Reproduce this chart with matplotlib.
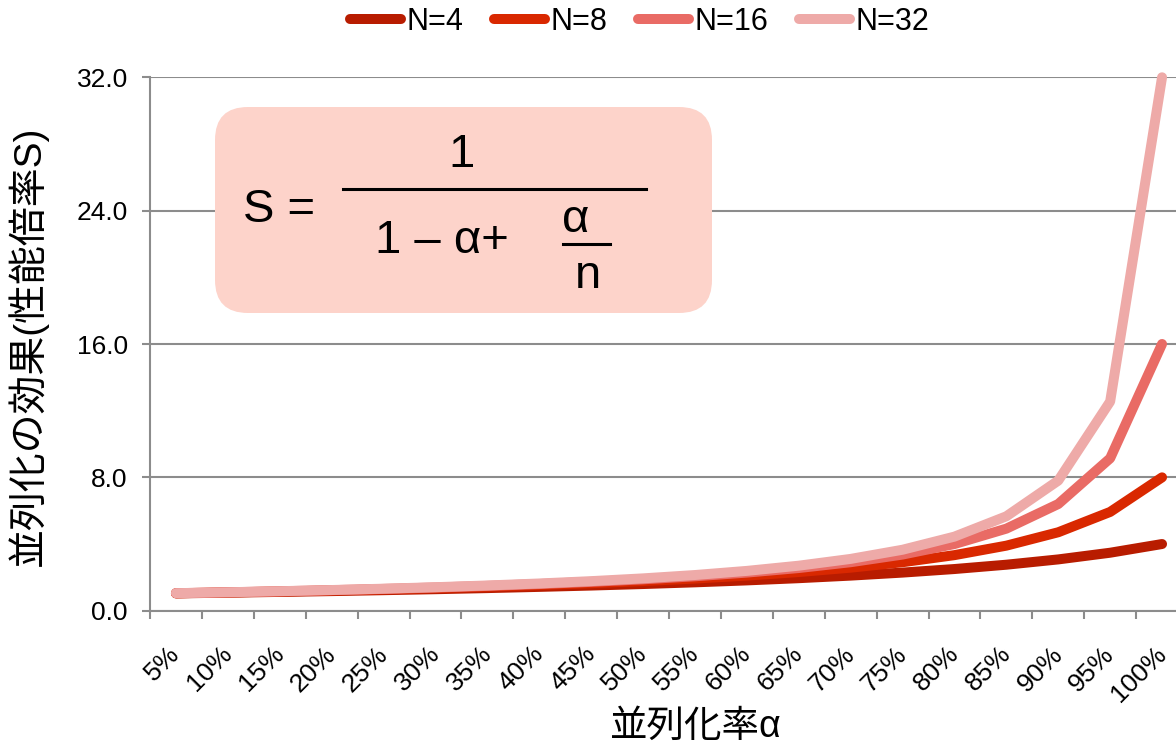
import matplotlib
matplotlib.use("Agg")
import matplotlib.pyplot as plt
from matplotlib.patches import FancyBboxPatch
from matplotlib.lines import Line2D
from matplotlib.transforms import Affine2D, ScaledTranslation

plt.rcParams['font.family'] = ['Liberation Sans', 'Noto Sans CJK JP', 'DejaVu Sans']

# Parallel fraction categories and speed-up for each core count
categories = ['5%', '10%', '15%', '20%', '25%', '30%', '35%', '40%', '45%', '50%',
              '55%', '60%', '65%', '70%', '75%', '80%', '85%', '90%', '95%', '100%']
series_names = ['N=4', 'N=8', 'N=16', 'N=32']
speedup_n4 = [1.039, 1.081, 1.127, 1.176, 1.231, 1.290, 1.356, 1.429, 1.509, 1.600,
              1.702, 1.818, 1.951, 2.105, 2.286, 2.500, 2.759, 3.077, 3.478, 4.000]
speedup_n8 = [1.046, 1.096, 1.151, 1.212, 1.280, 1.356, 1.441, 1.538, 1.649, 1.778,
              1.928, 2.105, 2.319, 2.581, 2.909, 3.333, 3.902, 4.706, 5.926, 8.000]
speedup_n16 = [1.049, 1.103, 1.164, 1.231, 1.306, 1.391, 1.488, 1.600, 1.730, 1.882,
               2.065, 2.286, 2.560, 2.909, 3.368, 4.000, 4.923, 6.400, 9.143, 16.000]
speedup_n32 = [1.051, 1.107, 1.170, 1.240, 1.320, 1.410, 1.513, 1.633, 1.773, 1.939,
               2.140, 2.388, 2.700, 3.107, 3.657, 4.444, 5.664, 7.805, 12.549, 32.000]
y_ticks = [0, 8, 16, 24, 32]

series = [speedup_n4, speedup_n8, speedup_n16, speedup_n32]
colors = ['#B81C00', '#D92800', '#E96B65', '#EEAAA8']

W, H = 1176, 746
fig = plt.figure(figsize=(W / 100, H / 100), dpi=100)
ax = fig.add_axes([150 / W, 1 - 610.7 / H, 1038 / W, (610.7 - 77.3) / H])

x = list(range(len(categories)))
for vals, col, name in zip(series, colors, series_names):
    ax.plot(x, vals, color=col, lw=7.2, solid_capstyle='round',
            solid_joinstyle='round', label=name, clip_on=False, zorder=3)

ax.set_xlim(-0.5, len(categories) - 0.5)
ax.set_ylim(0, 32)
ax.set_yticks(y_ticks)
ax.set_yticklabels([f'{v:.1f}' for v in y_ticks])
ax.yaxis.grid(True, color='#8c8c8c', lw=1.5)
ax.set_axisbelow(True)

ax.set_xticks(x)
ax.set_xticks([i - 0.5 for i in range(len(categories) + 1)], minor=True)
ax.set_xticklabels(categories, rotation=45, ha='right', va='top',
                   rotation_mode='anchor', fontsize=19)
ax.tick_params(axis='x', which='major', length=0, pad=18)
ax.tick_params(axis='x', which='minor', length=6, width=1.5, color='#8c8c8c')
ax.tick_params(axis='y', length=6, width=1.5, color='#8c8c8c', labelsize=19, pad=10)
shift = ScaledTranslation(-8 / 100, -6 / 100, fig.dpi_scale_trans)
for lbl in ax.get_xticklabels():
    lbl.set_transform(lbl.get_transform() + shift)
for s in ['top', 'right']:
    ax.spines[s].set_visible(False)
for s in ['left', 'bottom']:
    ax.spines[s].set_color('#8c8c8c')
    ax.spines[s].set_linewidth(1.5)

# Legend across the top
handles = [Line2D([0], [0], color=c, lw=7.2, solid_capstyle='round') for c in colors]
fig.legend(handles, series_names, loc='center', bbox_to_anchor=(640 / W, 1 - 22 / H),
           ncol=4, frameon=False, fontsize=22, handlelength=1.65, handletextpad=0.2,
           columnspacing=1.0, borderaxespad=0)

# Axis titles
fig.text(28 / W, 1 - 346 / H, '並列化の効果(性能倍率S)', rotation=90, fontsize=28,
         ha='center', va='center')
fig.text(696 / W, 1 - 727 / H, '並列化率α', fontsize=27, ha='center', va='center')

# Amdahl's law formula panel (pixel coordinates, origin top-left)
px = Affine2D().scale(1 / W, -1 / H).translate(0, 1) + fig.transFigure
box = FancyBboxPatch((215 + 33, 107 + 33), 497 - 66, 206 - 66,
                     boxstyle='round,pad=33', transform=px,
                     facecolor='#FDD3CA', edgecolor='none', zorder=5)
fig.patches.append(box)
fs = 34
kw = dict(transform=px, fontsize=fs, ha='center', va='baseline', zorder=6)
fig.text(279, 222, 'S =', **kw)
fig.text(461, 167, '1', **kw)
fig.add_artist(Line2D([343, 646], [189, 189], transform=px, color='black', lw=2.2, zorder=6))
fig.text(442, 253, '1 – α+', **kw)
fig.text(576, 232, 'α', **kw)
fig.add_artist(Line2D([563, 610], [244, 244], transform=px, color='black', lw=2.2, zorder=6))
fig.text(588, 288, 'n', **kw)

fig.savefig('out.png', dpi=100)
